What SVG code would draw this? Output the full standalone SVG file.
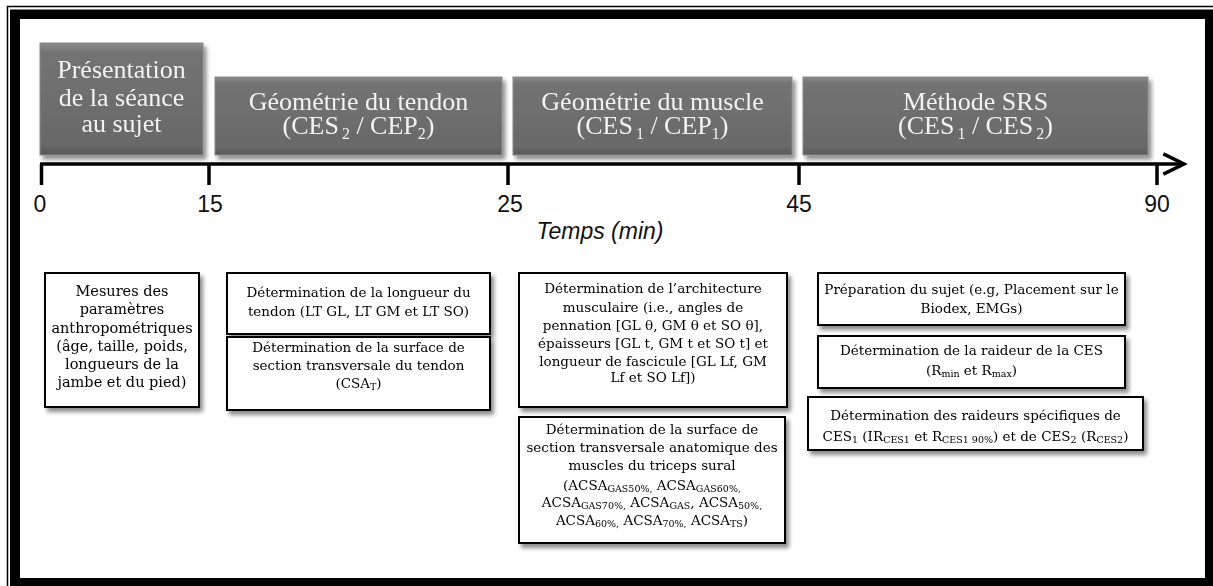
<svg xmlns="http://www.w3.org/2000/svg" width="1213" height="586" viewBox="0 0 1213 586">
<defs>
<style>
.hdr{font-family:"Liberation Serif","Times New Roman",serif;font-size:26px;fill:#f2f2f2;text-anchor:middle}
.sub{font-size:16px}
.ax{font-family:"Liberation Sans",Arial,sans-serif;font-size:23px;fill:#111;text-anchor:middle}
.bx{font-family:"DejaVu Serif","Liberation Serif",serif;font-size:13.5px;fill:#000;text-anchor:middle}
.bxa{font-size:14.5px}
.bs{font-size:9.5px}
.box{fill:#fff;stroke:#000;stroke-width:2}
.gbox{fill:url(#gg);stroke:#8a8a8a;stroke-width:1}
.tick{stroke:#000;stroke-width:3.5;fill:none}
</style>
<linearGradient id="gg" x1="0" y1="0" x2="0" y2="1">
<stop offset="0" stop-color="#8c8c8c"/>
<stop offset="0.08" stop-color="#737373"/>
<stop offset="0.9" stop-color="#696969"/>
<stop offset="1" stop-color="#585858"/>
</linearGradient>
<filter id="sh" x="-10%" y="-10%" width="130%" height="140%">
<feDropShadow dx="3" dy="4" stdDeviation="2" flood-color="#000" flood-opacity="0.45"/>
</filter>
<marker id="arr" markerWidth="8" markerHeight="8" refX="6.2" refY="4" orient="auto" markerUnits="strokeWidth">
<path d="M0.3,1.1 L6.2,4 L0.3,6.9" fill="none" stroke="#000" stroke-width="1"/>
</marker>
</defs>
<rect width="1213" height="586" fill="#fff"/>
<g id="frame">
<rect x="7.5" y="6.5" width="1230" height="610" fill="none" stroke="#000" stroke-width="1.5"/>
<path d="M10,9.5 H1230 V600 H10 Z M20,19 V578 H1205 V19 Z" fill="#000" fill-rule="evenodd"/>
</g>
<g id="connectors">
<line x1="40" y1="164" x2="1184" y2="164" stroke="#000" stroke-width="3.5" marker-end="url(#arr)"/>
<line class="tick" x1="41.5" y1="164" x2="41.5" y2="185"/>
<line class="tick" x1="209" y1="164" x2="209" y2="185"/>
<line class="tick" x1="508" y1="164" x2="508" y2="185"/>
<line class="tick" x1="799" y1="164" x2="799" y2="185"/>
<line class="tick" x1="1157" y1="164" x2="1157" y2="185"/>
</g>
<g id="axis-labels">
<text class="ax" x="40" y="212">0</text>
<text class="ax" x="210" y="212">15</text>
<text class="ax" x="510" y="212">25</text>
<text class="ax" x="799" y="212">45</text>
<text class="ax" x="1157" y="212">90</text>
<text class="ax" x="600" y="239" font-style="italic" font-size="25.5">Temps (min)</text>
</g>
<g id="phase1" filter="url(#sh)">
<rect class="gbox" x="40" y="43" width="163" height="112"/>
<text class="hdr"><tspan x="121.5" y="78">Présentation</tspan><tspan x="121.5" y="106">de la séance</tspan><tspan x="121.5" y="132">au sujet</tspan></text>
</g>
<g id="phase2" filter="url(#sh)">
<rect class="gbox" x="215" y="77" width="287" height="78"/>
<text class="hdr"><tspan x="358.5" y="110">Géométrie du tendon</tspan><tspan x="358.5" y="134">(CES</tspan><tspan class="sub" dx="3" dy="5">2</tspan><tspan dy="-5"> / CEP</tspan><tspan class="sub" dy="5">2</tspan><tspan dy="-5">)</tspan></text>
</g>
<g id="phase3" filter="url(#sh)">
<rect class="gbox" x="513" y="77" width="279" height="78"/>
<text class="hdr"><tspan x="652.5" y="110">Géométrie du muscle</tspan><tspan x="652.5" y="134">(CES</tspan><tspan class="sub" dx="3" dy="5">1</tspan><tspan dy="-5"> / CEP</tspan><tspan class="sub" dy="5">1</tspan><tspan dy="-5">)</tspan></text>
</g>
<g id="phase4" filter="url(#sh)">
<rect class="gbox" x="803" y="77" width="345" height="78"/>
<text class="hdr"><tspan x="975.5" y="110">Méthode SRS</tspan><tspan x="975.5" y="134">(CES</tspan><tspan class="sub" dx="3" dy="5">1</tspan><tspan dy="-5"> / CES</tspan><tspan class="sub" dx="3" dy="5">2</tspan><tspan dy="-5">)</tspan></text>
</g>
<g id="boxA" filter="url(#sh)">
<rect class="box" x="45" y="273" width="154" height="134"/>
<text class="bx bxa" x="122" y="296">Mesures des</text>
<text class="bx bxa" x="122" y="314">paramètres</text>
<text class="bx bxa" x="122" y="332.5">anthropométriques</text>
<text class="bx bxa" x="122" y="350.5">(âge, taille, poids,</text>
<text class="bx bxa" x="122" y="368.5">longueurs de la</text>
<text class="bx bxa" x="122" y="386.5">jambe et du pied)</text>
</g>
<g id="boxB1" filter="url(#sh)">
<rect class="box" x="227" y="273" width="263" height="61"/>
<text class="bx" x="358.5" y="297">Détermination de la longueur du</text>
<text class="bx" x="358.5" y="316">tendon (LT GL, LT GM et LT SO)</text>
</g>
<g id="boxB2" filter="url(#sh)">
<rect class="box" x="227" y="337" width="263" height="73"/>
<text class="bx" x="358.5" y="352">Détermination de la surface de</text>
<text class="bx" x="358.5" y="370">section transversale du tendon</text>
<text class="bx" x="358.5" y="388">(CSA<tspan class="bs" dy="2">T</tspan><tspan dy="-2">)</tspan></text>
</g>
<g id="boxC1" filter="url(#sh)">
<rect class="box" x="519" y="273" width="268" height="134"/>
<text class="bx" x="653" y="293">Détermination de l’architecture</text>
<text class="bx" x="653" y="311.5">musculaire (i.e., angles de</text>
<text class="bx" x="653" y="330">pennation [GL θ, GM θ et SO θ],</text>
<text class="bx" x="653" y="348">épaisseurs [GL t, GM t et SO t] et</text>
<text class="bx" x="653" y="365.5">longueur de fascicule [GL Lf, GM</text>
<text class="bx" x="653" y="382">Lf et SO Lf])</text>
</g>
<g id="boxC2" filter="url(#sh)">
<rect class="box" x="519" y="417" width="266" height="126"/>
<text class="bx" x="652" y="433.5">Détermination de la surface de</text>
<text class="bx" x="652" y="452">section transversale anatomique des</text>
<text class="bx" x="652" y="470">muscles du triceps sural</text>
<text class="bx" x="652" y="489.5">(ACSA<tspan class="bs" dy="2">GAS50%,</tspan><tspan dy="-2"> ACSA</tspan><tspan class="bs" dy="2">GAS60%,</tspan></text>
<text class="bx" x="652" y="507">ACSA<tspan class="bs" dy="2">GAS70%,</tspan><tspan dy="-2"> ACSA</tspan><tspan class="bs" dy="2">GAS</tspan><tspan dy="-2">, ACSA</tspan><tspan class="bs" dy="2">50%,</tspan></text>
<text class="bx" x="652" y="525">ACSA<tspan class="bs" dy="2">60%,</tspan><tspan dy="-2"> ACSA</tspan><tspan class="bs" dy="2">70%,</tspan><tspan dy="-2"> ACSA</tspan><tspan class="bs" dy="2">TS</tspan><tspan dy="-2">)</tspan></text>
</g>
<g id="boxD1" filter="url(#sh)">
<rect class="box" x="818" y="273" width="307" height="52"/>
<text class="bx" x="971.5" y="293.5">Préparation du sujet (e.g,  Placement sur le</text>
<text class="bx" x="971.5" y="313">Biodex, EMGs)</text>
</g>
<g id="boxD2" filter="url(#sh)">
<rect class="box" x="818" y="336" width="307" height="52"/>
<text class="bx" x="971.5" y="355">Détermination de la raideur de la CES</text>
<text class="bx" x="971.5" y="375">(R<tspan class="bs" dy="2">min</tspan><tspan dy="-2"> et R</tspan><tspan class="bs" dy="2">max</tspan><tspan dy="-2">)</tspan></text>
</g>
<g id="boxD3" filter="url(#sh)">
<rect class="box" x="808" y="397" width="335" height="53"/>
<text class="bx" x="975.5" y="420">Détermination des raideurs spécifiques de</text>
<text class="bx" x="975.5" y="441">CES<tspan class="bs" dy="2">1</tspan><tspan dy="-2"> (IR</tspan><tspan class="bs" dy="2">CES1</tspan><tspan dy="-2"> et R</tspan><tspan class="bs" dy="2">CES1 90%</tspan><tspan dy="-2">) et de CES</tspan><tspan class="bs" dy="2">2</tspan><tspan dy="-2"> (R</tspan><tspan class="bs" dy="2">CES2</tspan><tspan dy="-2">)</tspan></text>
</g>
</svg>
